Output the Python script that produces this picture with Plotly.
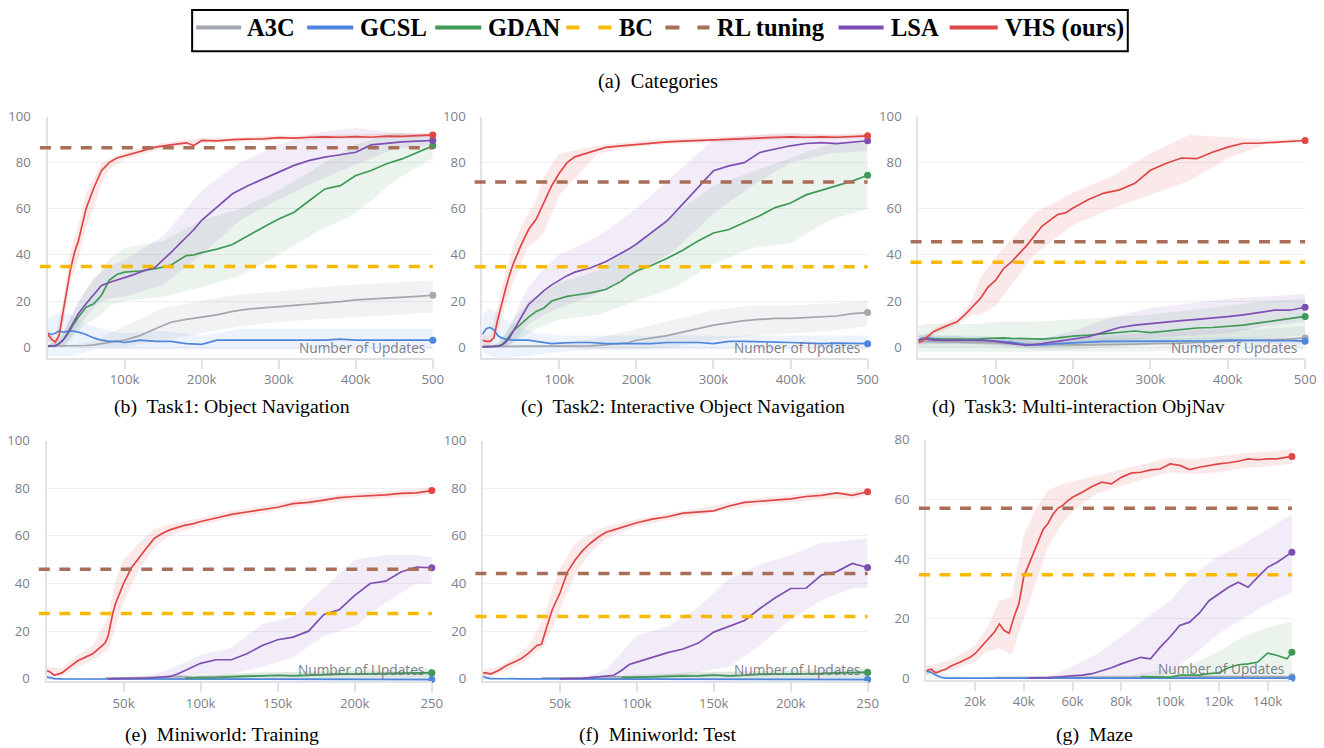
import plotly.graph_objects as go

# ======================= DATA =======================
# x values are in thousands of updates
SERIES = ["A3C", "GCSL", "GDAN", "LSA", "VHS (ours)"]
LEGEND_NAMES = ["A3C", "GCSL", "GDAN", "BC", "RL tuning", "LSA", "VHS (ours)"]

# ---- Tasks 1-3 (0..500k) ----
T_X = [0, 5, 10, 15, 20, 25, 30, 35, 40, 50, 60, 70, 80, 90, 100, 110, 120, 140, 160, 180,
       190, 200, 220, 240, 260, 280, 300, 320, 340, 360, 380, 400, 420, 440, 460, 480, 500]
T_BX = [0, 10, 20, 30, 40, 50, 60, 70, 80, 100, 150, 200, 250, 300, 350, 400, 450, 500]

# (b) Task1: Object Navigation
B_VHS = [5.8, 3.5, 2.2, 5, 15, 25, 34, 41, 46, 60, 69, 76.5, 80, 82, 83, 84, 85, 86.7, 87.7, 88.6,
         87.4, 89.6, 89.4, 90, 90.2, 90.3, 90.8, 90.6, 91, 91.2, 91, 91.3, 91, 91.5, 91.4, 91.6, 92]
B_LSA = [0.3, 0.3, 0.5, 1.5, 3, 5.5, 8.7, 11.5, 14.5, 18.8, 23, 26.7, 28, 29, 30, 31.2, 32.5, 34.7, 41, 47.7,
         51, 55, 60.7, 66.5, 70, 73, 76, 78.8, 81, 82.4, 83.4, 84.5, 87.7, 88.5, 89, 89.3, 89.6]
B_GDAN = [0.5, 0.5, 0.7, 1.5, 3, 5, 8, 10.5, 13, 17.3, 18.8, 22.5, 29, 31.5, 32.5, 32.8, 33, 34, 35.5, 39.7,
          40, 41, 42.5, 44.5, 48.4, 52, 55.6, 58.5, 63.6, 68.6, 70, 74.4, 76.6, 79.5, 81.6, 84.5, 87.3]
B_A3C = [0.5, 0.5, 0.5, 0.5, 0.5, 0.5, 0.5, 0.5, 0.5, 0.7, 1, 1.5, 2, 2.5, 3, 4, 5, 8, 10.8, 12,
         12.5, 13, 14, 15.5, 16.5, 17, 17.5, 18, 18.7, 19.2, 19.7, 20.5, 20.8, 21.3, 21.7, 22, 22.5]
B_GCSL = [6, 5.5, 6, 7, 6.5, 6.8, 7, 6.8, 6.5, 5.5, 4, 3, 2.5, 2.5, 2, 2.5, 3, 2.5, 2.5, 1.5,
          1.3, 1.2, 3, 3, 3, 3, 3, 3, 3, 3, 3.5, 3, 3, 3, 3, 3, 3]
B_VHS_LO = [3, 0, 9, 28, 38, 52, 60, 71, 77, 81.5, 86, 88.5, 89, 89.8, 90, 90.3, 90.8, 91]
B_VHS_HI = [8, 4, 20, 42, 53, 67, 73, 80, 81.5, 84.5, 88.5, 90.7, 91, 91.8, 92, 92.3, 92.8, 93]
B_LSA_LO = [0, 0, 0, 4, 9, 13, 17, 20, 21, 22, 27, 40, 55, 64, 72, 79, 86, 87.5]
B_LSA_HI = [1, 2, 6, 13, 20, 25, 30, 33, 35, 38, 48, 68, 80, 88, 93, 95, 93, 92]
B_GDAN_LO = [0, 0, 0, 3, 7, 10, 12, 14, 18, 20, 22, 26, 31, 40, 50, 58, 72, 82]
B_GDAN_HI = [1, 2, 6, 13, 19, 25, 29, 33, 38, 43, 46, 55, 60, 68, 78, 88, 93, 92]
B_A3C_LO = [0, 0, 0, 0, 0, 0, 0, 0, 0, 0, 3, 6, 9, 11, 12, 13, 14, 15]
B_A3C_HI = [1, 1, 1, 1, 1.5, 2, 3, 4, 6, 9, 17, 20, 23, 24, 26, 27, 28, 29]
B_GCSL_LO = [-4, -4, -4, -4, -3, -2, -1, -1, -1, -1, -1, -1, -1, -1, -1, -1, -1, -1]
B_GCSL_HI = [12, 14, 15, 14, 12, 10, 9, 8, 7, 6, 7, 5, 8, 8, 8, 8, 8, 8]

# (c) Task2: Interactive Object Navigation
C_VHS = [3, 2.5, 2.5, 4, 12, 19, 25, 31, 36, 44, 51, 55.5, 62.5, 70, 75.5, 80, 82.5, 84.4, 86.6, 87.3,
         87.6, 88, 88.3, 89, 89.3, 89.6, 90, 90.2, 90.4, 90.6, 90.9, 91.2, 91, 91.2, 91, 91.3, 91.6]
C_LSA = [0.2, 0.2, 0.2, 0.2, 0.3, 0.8, 2, 4, 7, 13, 18.5, 21.5, 24.5, 27, 29, 31, 32.5, 34.3, 37, 40.5,
         42.5, 44.7, 49.8, 54.8, 62, 69.3, 76.5, 78.6, 80, 84.4, 85.9, 87.3, 88.3, 88.7, 88.2, 89, 89.5]
C_GDAN = [0, 0, 0.2, 0.3, 0.5, 1, 2.5, 5, 7, 10, 13, 15.5, 17, 20, 21, 22, 22.5, 23.5, 25, 28.5,
          31, 33, 35.5, 38.5, 42, 46, 49.5, 51, 54, 57, 60.5, 62.5, 66, 68, 70, 72, 74.5]
C_A3C = [0.3, 0.3, 0.3, 0.3, 0.3, 0.3, 0.3, 0.3, 0.3, 0.3, 0.3, 0.3, 0.3, 0.3, 0.3, 0.3, 0.3, 0.5, 1, 1.5,
         2, 3, 4, 5, 6.5, 8, 9.5, 10.5, 11.5, 12, 12.5, 12.5, 12.8, 13, 13.5, 14.5, 15]
C_GCSL = [5.5, 8, 8.5, 7.5, 5, 4, 3.5, 3.2, 3, 3, 3, 2.5, 2, 1.5, 1.7, 2, 2, 2, 1.5, 1.5,
          1.5, 1.5, 1.5, 2, 2, 2, 1.5, 2.5, 2.5, 2.5, 2.2, 2, 1.8, 1.5, 1.7, 1.5, 1.5]
C_VHS_LO = [1, 0.5, 7, 18, 28, 36, 44, 46, 50, 66, 84, 87, 88.2, 89, 89.5, 90.2, 90.1, 90.6]
C_VHS_HI = [5, 5, 18, 32, 44, 52, 58, 64, 74, 84, 87.5, 89.3, 90.5, 91.2, 91.7, 92.4, 92.3, 92.8]
C_LSA_LO = [0, 0, 0, 0, 2, 6, 10, 12, 14, 17, 23, 32, 42, 58, 70, 80, 84, 85]
C_LSA_HI = [0.5, 0.5, 1.5, 5, 12, 20, 26, 30, 34, 40, 48, 60, 75, 90, 92, 93, 92, 92]
C_GDAN_LO = [0, 0, 0, 0, 2, 4, 6, 8, 9, 12, 14, 20, 26, 36, 43, 45, 55, 60]
C_GDAN_HI = [0.5, 0.5, 2, 6, 12, 16, 20, 22, 24, 28, 33, 45, 58, 70, 76, 82, 88, 89]
C_A3C_LO = [0, 0, 0, 0, 0, 0, 0, 0, 0, 0, -1, -1, 0, 3, 5, 6, 7, 9]
C_A3C_HI = [1, 1, 1, 1, 1, 1, 1, 1, 1, 1.5, 4, 8, 12, 16, 18, 18, 19, 20]
C_GCSL_LO = [-2, -4, -5, -5, -5, -4, -4, -3, -3, -2, -1, -1, -1, -1, -1, -1, -1, -1]
C_GCSL_HI = [14, 17, 15, 12, 10, 8, 7, 6, 6, 5, 5, 5, 5, 5, 5, 5, 5, 5]

# (d) Task3: Multi-interaction ObjNav
D_VHS = [2, 2.5, 4, 5.5, 6.8, 7.5, 8.3, 9, 9.7, 11, 14, 17.5, 21, 26, 29, 34, 36.8, 44, 52.5, 57.5,
         58.2, 60.3, 64, 66.8, 68.2, 71, 76.7, 79.6, 82, 81.7, 84.5, 86.7, 88.4, 88.4, 88.9, 89.3, 89.6]
D_LSA = [3, 3.5, 3.5, 3.2, 3, 3, 3, 3, 3, 3, 3, 3, 3, 2.8, 2.5, 2, 1.5, 0.7, 1.5, 2.5,
         3, 3.5, 4.5, 6.5, 8.5, 9.5, 10.2, 11, 11.5, 12, 12.5, 13.2, 14, 15, 16, 16, 17.3]
D_GDAN = [3, 3.5, 3.5, 3.5, 3.5, 3.4, 3.3, 3.3, 3.3, 3.4, 3.5, 3.5, 3.6, 3.8, 4, 4, 3.8, 3.5, 3.5, 4,
          4.5, 4.8, 5.2, 5.8, 6.3, 7, 6.3, 7, 7.5, 8.3, 8.5, 9, 9.5, 10.5, 11.5, 12.3, 13.3]
D_A3C = [2.5, 2.5, 2.5, 2.5, 2.5, 2.5, 2.5, 2.5, 2.3, 2.2, 2, 2, 2, 1.8, 1.8, 1.6, 1.5, 1.3, 1.2, 1,
         1, 1, 1, 1, 1.2, 1.3, 1.5, 1.5, 1.7, 2, 2.2, 2.5, 2.8, 3, 3.2, 3.5, 4]
D_GCSL = [3, 3.8, 4, 3.8, 3.5, 3.3, 3.2, 3.2, 3.2, 3.2, 3.2, 3.2, 3.2, 2.8, 2.5, 2.3, 2.2, 1, 1, 1.5,
          1.7, 2, 2.2, 2.5, 2.5, 2.5, 2.5, 2.5, 2.5, 2.5, 2.7, 3, 3, 3, 3, 2.8, 2.6]
D_VHS_LO = [1, 3, 5.5, 6.8, 8.2, 9.5, 12, 14, 14, 18, 40, 53, 60, 66, 72, 82, 88, 89]
D_VHS_HI = [3, 5, 8, 10, 11.5, 13, 16, 21, 30, 39, 58, 67, 74, 84, 92, 91, 90, 90.5]
D_LSA_LO = [1, 1.5, 1.5, 1.5, 1.5, 1.5, 1.5, 1.5, 1.5, 1, 0, 0, 2, 4, 5, 6, 9, 11]
D_LSA_HI = [5, 5.5, 4.5, 4.5, 4.5, 4.5, 4.5, 4.5, 4.5, 4, 3, 7, 13, 17, 19, 21, 22, 23]
D_GDAN_LO = [-2, -2, -2, -2, -2, -2, -2, -2, -2, -2, -2, -1, 0, 1, 2, 3, 4, 5]
D_GDAN_HI = [9, 10, 10, 10, 10, 10, 10, 10, 10, 11, 11, 12, 13, 14, 16, 18, 20, 21]
D_A3C_LO = [0, 0, 0, 0, 0, 0, 0, 0, 0, 0, -1, -2, -2, -2, -1, -1, -1, -1]
D_A3C_HI = [5, 5, 5, 5, 5, 5, 4, 4, 4, 4, 4, 4, 5, 6, 7, 8, 8, 9]
D_GCSL_LO = [1, 2, 1.5, 1.5, 1.5, 1.5, 1.5, 1.5, 1.5, 1, -0.5, 0.5, 1, 1, 1, 1.5, 1.5, 1]
D_GCSL_HI = [5, 6, 5.5, 5, 5, 5, 5, 5, 5, 4, 2.5, 3.5, 4, 4, 4, 4.5, 4.5, 4.2]

# ---- Miniworld (0..250k) ----
W_X = [0, 2, 5, 10, 15, 20, 25, 30, 35, 38, 40, 43, 45, 50, 55, 60, 65, 70, 75, 80,
       85, 90, 95, 100, 110, 120, 130, 140, 150, 160, 170, 180, 190, 200, 210, 220, 230, 240, 250]
W_BX = [0, 10, 20, 30, 40, 45, 50, 60, 70, 80, 100, 120, 140, 160, 180, 200, 220, 240, 250]

# (e) Miniworld: Training
E_VHS = [3.5, 3, 1.5, 2.5, 5, 7.5, 9, 10.5, 13.3, 15, 18, 27.5, 32, 40, 46.5, 51, 55, 59, 61, 62.5,
         63.5, 64.5, 65, 66, 67.5, 69, 70, 71, 72, 73.5, 74, 75, 76, 76.5, 76.8, 77.2, 77.8, 78, 79]
E_LSA = [None, None, None, None, None, None, None, None, None, None, 0, 0, 0, 0.1, 0.1, 0.2, 0.3, 0.5, 0.7, 1,
         2, 3.5, 5, 6.5, 8, 8, 10.5, 14, 16.4, 17.5, 20, 27, 29, 35, 40, 41, 44.8, 46.9, 46.6]
E_GDAN = [None, None, None, None, None, None, None, None, None, None, None, None, None, None, None, None, None,
          None, None, None, None, 0.3, 0.3, 0.5, 0.5, 0.8, 1, 1.3, 1.5, 1.2, 1.5, 1.8, 2, 2, 2.2, 2.3, 2.5, 2.5, 2.5]
E_A3C = [None, None, None, None, None, None, None, None, None, 0.3, 0.3, 0.3, 0.3, 0.3, 0.3, 0.3, 0.4, 0.5, 0.6, 0.8,
         1, 0.8, 0.6, 0.8, 0.8, 1, 1.2, 1.2, 1.2, 1.5, 1.5, 1.8, 2, 2, 2, 2.2, 2.3, 2.3, 2.3]
E_GCSL = [0.8, 0.5, 0.1, 0, 0, 0, 0, 0, 0, 0, 0, 0, 0, 0, 0, 0, 0, 0, 0, 0,
          0, 0, 0, 0, 0, 0, 0, 0, 0, 0, 0, 0, 0, 0, 0, 0, 0, 0, -0.3]
E_VHS_LO = [2, 1, 5, 8, 12, 22, 32, 46, 55, 60, 64.5, 67.5, 69.5, 72, 73.5, 75, 75.8, 76.5, 77.5]
E_VHS_HI = [5, 4.5, 10, 14, 26, 42, 50, 57, 63, 65, 67.5, 70.5, 72.5, 75, 76.5, 78, 78.7, 79.5, 80.5]
E_LSA_LO = [0, 0, 0, 0, 0, 0, 0, 0, 0, -0.5, 2, 2, 5, 9, 18, 22, 32, 40, 40]
E_LSA_HI = [0, 0, 0, 0, 0.3, 0.5, 0.7, 1, 2, 4, 10, 13, 23, 26, 38, 50, 52, 52, 51]
E_GDAN_LO = [0, 0, 0, 0, 0, 0, 0, 0, 0, 0, -0.5, -0.5, -0.5, -0.5, 0, 0, 0.5, 0.5, 0.5]
E_GDAN_HI = [0, 0, 0, 0, 0, 0, 0, 0, 0, 0.5, 1.5, 2, 3, 3, 3.5, 4, 4, 4.5, 4.5]
E_A3C_LO = [0, 0, 0, 0, 0, 0, 0, 0, 0, 0, 0, 0, 0, 0, 0, 0, 0, 0, 0]
E_A3C_HI = [0, 0, 0, 0, 0.5, 0.7, 0.8, 1, 1.2, 1.5, 1.8, 2, 2.5, 2.8, 3, 3.2, 3.5, 3.5, 3.5]
E_GCSL_LO = [-0.5, -0.5, -0.5, -0.5, -0.5, -0.5, -0.5, -0.5, -0.5, -0.5, -0.5, -0.5, -0.5, -0.5, -0.5, -0.5, -0.5, -0.5, -0.5]
E_GCSL_HI = [2, 0.5, 0.3, 0.3, 0.3, 0.3, 0.3, 0.3, 0.3, 0.3, 0.3, 0.3, 0.3, 0.3, 0.3, 0.3, 0.3, 0.3, 0.3]

# (f) Miniworld: Test
F_VHS = [2.5, 2.5, 2, 3.5, 5.5, 7, 8.5, 11, 14, 14.5, 19, 25, 29, 36, 45, 50, 54, 57, 59.5, 61.5,
         62.5, 63.5, 64.5, 65.5, 67, 68, 69.5, 70, 70.5, 72.5, 74, 74.5, 75, 75.5, 76.5, 77, 78, 77, 78.5]
F_LSA = [None, None, None, None, None, None, None, None, None, None, None, None, None, 0, 0, 0, 0.2, 0.5, 0.8, 1,
         1.5, 3.5, 6, 7, 9, 11, 12.5, 15, 19.6, 22, 24.5, 29.5, 34, 37.9, 38, 43.5, 45, 48.4, 46.7]
F_GDAN = [None, None, None, None, None, None, None, None, None, None, None, None, None, None, None, None, None,
          None, None, None, None, 0.5, 0.5, 0.8, 0.8, 1, 1, 1.2, 1.5, 1.2, 1.5, 2, 2, 2, 2.2, 2.2, 2.5, 2.5, 2.8]
F_A3C = [None, None, None, None, None, None, None, None, None, 0.3, 0.3, 0.3, 0.3, 0.5, 0.5, 0.5, 0.5, 0.5, 0.8, 0.8,
         0.8, 0.5, 0.5, 0.5, 0.8, 1, 1.5, 1.2, 1.8, 1.2, 1.5, 1.8, 2, 2, 2.2, 2.2, 2.5, 2.5, 2.5]
F_GCSL = [1, 0.5, 0.1, 0, 0, 0, 0, 0, 0, 0, 0, 0, 0, 0, 0, 0, 0, 0, 0, 0,
          0, 0, 0, 0, 0, 0, 0, 0, 0, 0, 0, 0, 0, 0, 0, 0, 0, 0, -0.3]
F_VHS_LO = [1, 2, 5, 8.5, 14, 22, 29, 44, 53, 59, 64, 66.5, 68.5, 71, 73, 74, 75.5, 75.5, 77]
F_VHS_HI = [4, 5, 9, 14, 26, 38, 46, 57, 61, 64, 67, 69.5, 71.5, 74, 76, 77, 78.5, 78.5, 80]
F_LSA_LO = [0, 0, 0, 0, 0, 0, 0, 0, 0, -0.5, 0, 1, 3, 5, 14, 25, 33, 38, 38]
F_LSA_HI = [0, 0, 0, 0, 0, 0, 0, 0.5, 1.5, 4, 18, 22, 30, 42, 48, 52, 57, 58, 59]
F_GDAN_LO = [0, 0, 0, 0, 0, 0, 0, 0, 0, 0, -0.5, -0.5, -0.5, -0.5, 0, 0, 0.5, 0.5, 0.5]
F_GDAN_HI = [0, 0, 0, 0, 0, 0, 0, 0, 0, 0.5, 1.5, 2, 3, 3, 3.5, 4, 4.5, 5, 5]
F_A3C_LO = [0, 0, 0, 0, 0, 0, 0, 0, 0, 0, 0, 0, 0, 0, 0, 0, 0, 0, 0]
F_A3C_HI = [0, 0, 0, 0, 0.5, 0.7, 0.8, 1, 1.2, 1.5, 1.8, 2.2, 2.8, 3, 3.2, 3.5, 3.8, 3.8, 3.8]
F_GCSL_LO = [-0.5, -0.5, -0.5, -0.5, -0.5, -0.5, -0.5, -0.5, -0.5, -0.5, -0.5, -0.5, -0.5, -0.5, -0.5, -0.5, -0.5, -0.5, -0.5]
F_GCSL_HI = [2.5, 0.5, 0.3, 0.3, 0.3, 0.3, 0.3, 0.3, 0.3, 0.3, 0.3, 0.3, 0.3, 0.3, 0.3, 0.3, 0.3, 0.3, 0.3]

# ---- (g) Maze (0..150k) ----
G_X = [0, 2, 4, 6, 8, 10, 14, 18, 20, 24, 28, 30, 32, 34, 36, 38, 40, 42, 44, 46,
       48, 50, 52, 54, 56, 58, 60, 64, 68, 72, 76, 80, 84, 88, 92, 96, 100, 104, 108, 112,
       116, 120, 124, 128, 132, 136, 140, 144, 148, 150]
G_BX = [0, 10, 20, 25, 30, 35, 40, 45, 50, 55, 60, 70, 80, 90, 100, 110, 120, 130, 140, 150]
G_VHS = [2.5, 3, 1.7, 2.5, 3, 4, 5.4, 7, 8.2, 12, 15.5, 18.2, 16, 15.1, 20.5, 25, 34, 38, 42, 46,
         50, 52, 55, 57, 58, 59.5, 60.7, 62.4, 64.3, 65.8, 65.2, 67.4, 68.8, 69.1, 69.9, 70.2, 71.9, 71.4, 70, 70.8,
         71.4, 71.9, 72.3, 72.8, 73.6, 73.3, 73.6, 73.6, 74.2, 74.4]
G_LSA = [None, None, None, None, None, None, None, None, None, None, None, None, None, None, None, None, None, 0, 0, 0.1,
         0.2, 0.2, 0.3, 0.4, 0.5, 0.5, 0.6, 1, 1.5, 2.5, 3.5, 4.8, 5.9, 7, 6.5, 10.4, 13.8, 17.7, 18.8, 21.8,
         26, 28.3, 30.5, 32.2, 30.5, 33.9, 37.2, 38.9, 41.2, 42.3]
G_GDAN = [None, None, None, None, None, None, None, None, None, None, None, None, None, None, None, None, None, None, None, None,
          None, None, None, None, None, None, None, None, None, None, None, None, None, 0.5, 0.5, 0.5, 0.3, 1, 1, 1,
          1.5, 1.8, 3.5, 4.5, 4.8, 5.4, 8.4, 7.6, 6.5, 8.7]
G_A3C = [None, None, None, None, None, None, None, None, None, None, 0.2, 0.2, 0.2, 0.2, 0.2, 0.2, 0.2, 0.2, 0.2, 0.2,
         0.3, 0.3, 0.3, 0.3, 0.3, 0.3, 0.3, 0.3, 0.3, 0.3, 0.4, 0.4, 0.4, 0.4, 0.4, 0.4, 0.4, 0.4, 0.4, 0.4,
         0.5, 0.5, 0.5, 0.5, 0.5, 0.5, 0.5, 0.5, 0.5, 0.5]
G_GCSL = [2.3, 2, 1, 0.3, 0, 0, 0, 0, 0, 0, 0, 0, 0, 0, 0, 0, 0, 0, 0, 0,
          0, 0, 0, 0, 0, 0, 0, 0, 0, 0, 0, 0, 0, 0, 0, 0, 0, 0, 0, 0,
          0, 0, 0, 0, 0, 0, 0, 0, 0, 0]
G_VHS_LO = [1, 2.5, 5.5, 9, 10, 8, 20, 32, 44, 51, 56, 62, 64.5, 67, 69, 68.5, 69, 70.5, 71, 72]
G_VHS_HI = [4, 6, 11, 17, 26, 27, 48, 57, 63, 65, 66, 68, 70, 72, 74, 73.5, 74.5, 75.5, 76, 77]
G_LSA_LO = [0, 0, 0, 0, 0, 0, 0, 0, 0, 0, -1, -2, -2, -1, 2, 8, 15, 20, 25, 29]
G_LSA_HI = [0, 0, 0, 0, 0, 0, 0, 0.5, 1, 2, 4, 8, 14, 20, 26, 35, 41, 45, 50, 55]
G_GDAN_LO = [0, 0, 0, 0, 0, 0, 0, 0, 0, 0, 0, 0, 0, -0.5, -0.5, -0.5, -0.5, 0, 0.5, 1.5]
G_GDAN_HI = [0, 0, 0, 0, 0, 0, 0, 0, 0, 0, 0, 0, 0, 2, 3, 5, 9, 14, 17, 19]
G_A3C_LO = [0, 0, 0, 0, 0, 0, 0, 0, 0, 0, 0, 0, 0, 0, 0, 0, 0, 0, 0, 0]
G_A3C_HI = [0, 0, 0, 0.5, 0.5, 0.5, 0.5, 0.5, 0.5, 0.5, 0.8, 1, 1, 1, 1, 1, 1, 1, 1, 1]
G_GCSL_LO = [0.5, -0.5, -0.5, -0.5, -0.5, -0.5, -0.5, -0.5, -0.5, -0.5, -0.5, -0.5, -0.5, -0.5, -0.5, -0.5, -0.5, -0.5, -0.5, -0.5]
G_GCSL_HI = [4, 1, 0.3, 0.3, 0.3, 0.3, 0.3, 0.3, 0.3, 0.3, 0.3, 0.3, 0.3, 0.3, 0.3, 0.3, 0.3, 0.3, 0.3, 0.3]

# Baselines drawn as horizontal dashed lines: panels b, c, d, e, f, g
RL_TUNING = [86.5, 71.6, 45.7, 46.0, 44.2, 57.0]
BC = [35.0, 34.8, 36.8, 27.4, 26.2, 34.7]

# Ticks
T_TICKS = [100, 200, 300, 400, 500]
T_TICK_TEXT = ["100k", "200k", "300k", "400k", "500"]
W_TICKS = [50, 100, 150, 200, 250]
W_TICK_TEXT = ["50k", "100k", "150k", "200k", "250"]
G_TICKS = [20, 40, 60, 80, 100, 120, 140]
G_TICK_TEXT = ["20k", "40k", "60k", "80k", "100k", "120k", "140k"]
Y_TICKS_100 = [0, 20, 40, 60, 80, 100]
Y_TICKS_80 = [0, 20, 40, 60, 80]

CAPTIONS = ["(b)  Task1: Object Navigation", "(c)  Task2: Interactive Object Navigation",
            "(d)  Task3: Multi-interaction ObjNav", "(e)  Miniworld: Training",
            "(f)  Miniworld: Test", "(g)  Maze"]
TOP_CAPTION = "(a)  Categories"
AXIS_LABEL = "Number of Updates"

# ======================= STYLE =======================
W, H = 1324, 748
# the photographed page comes out slightly squeezed; positions below are given in
# target-image pixels and corrected for that here
SX, SY, OY = 0.991, 0.9786, 8.5
LINE_COLOR = {"A3C": "#a4a7ad", "GCSL": "#4e86dd", "GDAN": "#3f9a58",
              "LSA": "#7d4fb4", "VHS (ours)": "#e04646"}
BAND_COLOR = {"A3C": "rgba(150,152,160,0.13)", "GCSL": "rgba(78,134,221,0.10)",
              "GDAN": "rgba(63,154,88,0.11)", "LSA": "rgba(125,79,180,0.11)",
              "VHS (ours)": "rgba(224,70,70,0.12)"}
BC_COLOR = "#f8b900"
RL_COLOR = "#a86e58"
TICK_FONT = dict(family="Open Sans", size=13.2, color="#80808a")
AXIS_COLOR = "#e2e2e6"
GRID_COLOR = "#efeff1"
SERIF = "Liberation Serif"


def px(v):
    return (v / SX) / W


def py(v):
    return min(1.0, 1 - ((v - OY) / SY) / H)


PANELS = [
    dict(x=T_X, bx=T_BX,
         ys=[B_A3C, B_GCSL, B_GDAN, B_LSA, B_VHS],
         lo=[B_A3C_LO, B_GCSL_LO, B_GDAN_LO, B_LSA_LO, B_VHS_LO],
         hi=[B_A3C_HI, B_GCSL_HI, B_GDAN_HI, B_LSA_HI, B_VHS_HI],
         xpx=(47.5, 432.5), ypx=(116, 357), xr=[0, 500], yr=[-4.5, 100],
         xt=T_TICKS, xtt=T_TICK_TEXT, yt=Y_TICKS_100, cap=(232, 406), row=1),
    dict(x=T_X, bx=T_BX,
         ys=[C_A3C, C_GCSL, C_GDAN, C_LSA, C_VHS],
         lo=[C_A3C_LO, C_GCSL_LO, C_GDAN_LO, C_LSA_LO, C_VHS_LO],
         hi=[C_A3C_HI, C_GCSL_HI, C_GDAN_HI, C_LSA_HI, C_VHS_HI],
         xpx=(482, 867), ypx=(116, 357), xr=[0, 500], yr=[-4.5, 100],
         xt=T_TICKS, xtt=T_TICK_TEXT, yt=Y_TICKS_100, cap=(683, 406), row=1),
    dict(x=T_X, bx=T_BX,
         ys=[D_A3C, D_GCSL, D_GDAN, D_LSA, D_VHS],
         lo=[D_A3C_LO, D_GCSL_LO, D_GDAN_LO, D_LSA_LO, D_VHS_LO],
         hi=[D_A3C_HI, D_GCSL_HI, D_GDAN_HI, D_LSA_HI, D_VHS_HI],
         xpx=(917.7, 1304.2), ypx=(116, 357), xr=[0, 500], yr=[-4.5, 100],
         xt=T_TICKS, xtt=T_TICK_TEXT, yt=Y_TICKS_100, cap=(1078, 406), row=1),
    dict(x=W_X, bx=W_BX,
         ys=[E_A3C, E_GCSL, E_GDAN, E_LSA, E_VHS],
         lo=[E_A3C_LO, E_GCSL_LO, E_GDAN_LO, E_LSA_LO, E_VHS_LO],
         hi=[E_A3C_HI, E_GCSL_HI, E_GDAN_HI, E_LSA_HI, E_VHS_HI],
         xpx=(46.5, 431.5), ypx=(440, 680.7), xr=[0, 250], yr=[-1, 100],
         xt=W_TICKS, xtt=W_TICK_TEXT, yt=Y_TICKS_100, cap=(222, 734), row=2),
    dict(x=W_X, bx=W_BX,
         ys=[F_A3C, F_GCSL, F_GDAN, F_LSA, F_VHS],
         lo=[F_A3C_LO, F_GCSL_LO, F_GDAN_LO, F_LSA_LO, F_VHS_LO],
         hi=[F_A3C_HI, F_GCSL_HI, F_GDAN_HI, F_LSA_HI, F_VHS_HI],
         xpx=(482.7, 867), ypx=(440, 680.7), xr=[0, 250], yr=[-1, 100],
         xt=W_TICKS, xtt=W_TICK_TEXT, yt=Y_TICKS_100, cap=(658, 734), row=2),
    dict(x=G_X, bx=G_BX,
         ys=[G_A3C, G_GCSL, G_GDAN, G_LSA, G_VHS],
         lo=[G_A3C_LO, G_GCSL_LO, G_GDAN_LO, G_LSA_LO, G_VHS_LO],
         hi=[G_A3C_HI, G_GCSL_HI, G_GDAN_HI, G_LSA_HI, G_VHS_HI],
         xpx=(925.6, 1291), ypx=(439.3, 679), xr=[0, 150], yr=[-0.45, 80],
         xt=G_TICKS, xtt=G_TICK_TEXT, yt=Y_TICKS_80, cap=(1094, 734), row=2),
]

fig = go.Figure()
shapes = []
annotations = []

for i, p in enumerate(PANELS):
    n = i + 1
    xa = "x" if n == 1 else f"x{n}"
    ya = "y" if n == 1 else f"y{n}"
    # bands
    for name, lo, hi in zip(SERIES, p["lo"], p["hi"]):
        fig.add_trace(go.Scatter(
            x=p["bx"] + p["bx"][::-1], y=hi + lo[::-1], xaxis=xa, yaxis=ya,
            mode="lines", fill="toself", fillcolor=BAND_COLOR[name],
            line=dict(width=0), hoverinfo="skip", showlegend=False))
    # mean curves
    for name, ys in zip(SERIES, p["ys"]):
        fig.add_trace(go.Scatter(
            x=p["x"], y=ys, xaxis=xa, yaxis=ya, mode="lines", name=name,
            line=dict(color=LINE_COLOR[name], width=1.7), showlegend=False,
            connectgaps=False))
    # end markers
    for name, ys in zip(SERIES, p["ys"]):
        fig.add_trace(go.Scatter(
            x=[p["x"][-1]], y=[ys[-1]], xaxis=xa, yaxis=ya, mode="markers",
            marker=dict(color=LINE_COLOR[name], size=7), cliponaxis=False,
            hoverinfo="skip", showlegend=False))

    xdom = [px(p["xpx"][0]), px(p["xpx"][1])]
    ydom = [py(p["ypx"][1]), py(p["ypx"][0])]
    fig.layout["xaxis" if n == 1 else f"xaxis{n}"] = dict(
        domain=xdom, range=p["xr"], anchor=ya, showgrid=False, zeroline=False,
        showline=True, linecolor=AXIS_COLOR, linewidth=2,
        ticks="outside", ticklen=9, tickwidth=1.5, tickcolor=AXIS_COLOR,
        tickmode="array", tickvals=p["xt"], ticktext=p["xtt"], tickfont=TICK_FONT,
        fixedrange=True)
    fig.layout["yaxis" if n == 1 else f"yaxis{n}"] = dict(
        domain=ydom, range=p["yr"], anchor=xa, showgrid=True, gridcolor=GRID_COLOR,
        gridwidth=1, zeroline=False, showline=True, linecolor=AXIS_COLOR, linewidth=2,
        ticks="outside", ticklen=12, tickcolor="rgba(0,0,0,0)",
        tickmode="array", tickvals=p["yt"], tickfont=TICK_FONT, fixedrange=True)

    # dashed baselines
    for val, col in ((RL_TUNING[i], RL_COLOR), (BC[i], BC_COLOR)):
        shapes.append(dict(type="line", xref=f"{xa} domain", yref=ya,
                           x0=-0.02, x1=1.0, y0=val, y1=val, layer="above",
                           line=dict(color=col, width=3.5, dash="11px,9.5px")))

    # axis title inside plot
    label_font = dict(family="Open Sans", size=13.7, color="rgba(110,110,122,0.9)")
    if p["row"] == 1:
        annotations.append(dict(text=AXIS_LABEL, xref=f"{xa} domain", yref=ya, x=1, y=0,
                                xanchor="right", yanchor="middle", xshift=-6, showarrow=False,
                                font=label_font))
    else:
        annotations.append(dict(text=AXIS_LABEL, xref=f"{xa} domain", yref=ya, x=1, y=0,
                                xanchor="right", yanchor="bottom", xshift=-6, yshift=-2, showarrow=False,
                                font=label_font))
    # caption
    annotations.append(dict(text=CAPTIONS[i], xref="paper", yref="paper",
                            x=px(p["cap"][0]), y=py(p["cap"][1]), xanchor="center", yanchor="middle",
                            showarrow=False, font=dict(family=SERIF, size=19.8, color="#000")))

annotations.append(dict(text=TOP_CAPTION, xref="paper", yref="paper", x=px(658), y=py(81),
                        xanchor="center", yanchor="middle", showarrow=False,
                        font=dict(family=SERIF, size=20.4, color="#000")))

# -------- legend (drawn as a boxed row) --------
LEG_LINE_X0 = [196, 307, 435, 566, 665, 838, 949]
LEG_LINE_X1 = [241, 353, 481, 611, 709, 883, 997]
LEG_TEXT_X = [245, 358, 486, 617, 715, 888, 1002]
LEG_COLORS = [LINE_COLOR["A3C"], LINE_COLOR["GCSL"], LINE_COLOR["GDAN"], BC_COLOR, RL_COLOR,
              LINE_COLOR["LSA"], LINE_COLOR["VHS (ours)"]]
LEG_DASH = ["solid", "solid", "solid", "13px,19px", "14px,18px", "solid", "solid"]
LEG_Y = 27
shapes.append(dict(type="rect", xref="paper", yref="paper", x0=px(192), x1=px(1127),
                   y0=py(50.7), y1=0.9985, line=dict(color="#000", width=2), layer="above"))
for name, x0, x1, tx, col, dash in zip(LEGEND_NAMES, LEG_LINE_X0, LEG_LINE_X1, LEG_TEXT_X, LEG_COLORS, LEG_DASH):
    shapes.append(dict(type="line", xref="paper", yref="paper", x0=px(x0), x1=px(x1),
                       y0=py(LEG_Y), y1=py(LEG_Y), line=dict(color=col, width=4, dash=dash)))
    annotations.append(dict(text=f"<b>{name}</b>", xref="paper", yref="paper", x=px(tx), y=py(LEG_Y),
                            xanchor="left", yanchor="middle", showarrow=False,
                            font=dict(family=SERIF, size=24.5, color="#000")))

fig.update_layout(width=W, height=H, autosize=False, margin=dict(l=0, r=0, t=0, b=0),
                  paper_bgcolor="white", plot_bgcolor="white", showlegend=False,
                  shapes=shapes, annotations=annotations)

fig.write_html("out.html", config={"displayModeBar": False},
               post_script="document.body.style.margin='0';")
